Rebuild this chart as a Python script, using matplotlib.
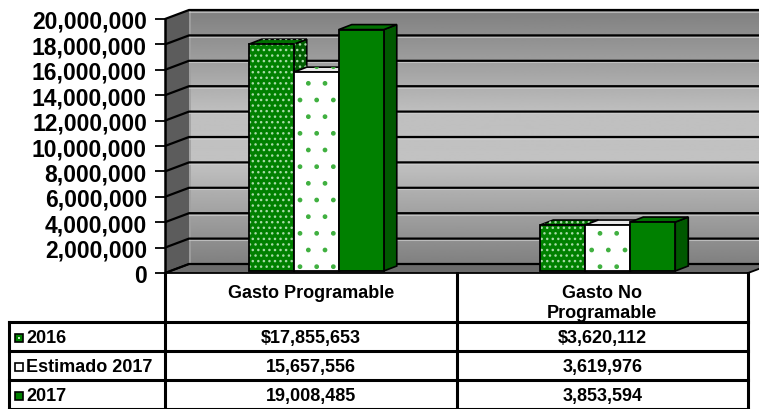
import numpy as np
import matplotlib
matplotlib.use("Agg")
import matplotlib.pyplot as plt
from matplotlib.patches import Polygon, Rectangle

plt.rcParams['font.family'] = ['Liberation Sans', 'DejaVu Sans']
plt.rcParams['hatch.linewidth'] = 1.0

# data
categories = ["Gasto Programable", "Gasto No\nProgramable"]
series = ["2016", "Estimado 2017", "2017"]
v2016 = [17855653, 3620112]
vest2017 = [15657556, 3619976]
v2017 = [19008485, 3853594]
values = [v2016, vest2017, v2017]
yticks = np.arange(0, 20000001, 2000000)

# styles per series: front colour, side colour, top colour, hatch, dot colour
front_col = ["#008000", "#ffffff", "#008000"]
side_col = ["#005c00", "#d8d8d8", "#005800"]
top_col = ["#007000", "#e8e8e8", "#007000"]
hatches = ["...", ".", None]
dot_col = ["#a8dca8", "#40b040", None]

# figure geometry (pixels)
W, H = 759, 410
X0, X1 = 165, 748          # front plane left/right
Y0, YTOP = 274, 20         # front plane value 0 / value 20M
WALL_DX, WALL_DY = 24, 9   # depth of the box
BAR_DX, BAR_DY = 13, 5     # depth of each bar
OFF_DX, OFF_DY = 5.5, 2    # bars sit in the middle of the depth

fig = plt.figure(figsize=(W / 100, H / 100), dpi=100)
ax = fig.add_axes([X0 / W, 1 - Y0 / H, (X1 - X0) / W, (Y0 - YTOP) / H])
ax.set_facecolor("none")

ncat = len(categories)
ymax = yticks[-1]
px_x = ncat / (X1 - X0)
px_y = ymax / (Y0 - YTOP)
DX, DY = WALL_DX * px_x, WALL_DY * px_y
bdx, bdy = BAR_DX * px_x, BAR_DY * px_y
fx, fy = OFF_DX * px_x, OFF_DY * px_y

# back wall with vertical gradient
stops_f = [0.0, 0.15, 0.4, 0.6, 0.8, 1.0]
stops_g = [0.50, 0.60, 0.76, 0.75, 0.62, 0.50]
grad = np.interp(np.linspace(0, 1, 256), stops_f, stops_g)[:, None]
ax.imshow(grad, extent=[DX, ncat + DX + 0.2, DY, ymax + DY], origin="lower",
          cmap="gray", vmin=0, vmax=1, aspect="auto", zorder=0, clip_on=False)

# side wall and floor
ax.add_patch(Polygon([(0, 0), (DX, DY), (DX, ymax + DY), (0, ymax)],
                     closed=True, facecolor="#5c5c5c", edgecolor="none",
                     zorder=1, clip_on=False))
ax.add_patch(Polygon([(0, 0), (ncat, 0), (ncat + DX, DY), (DX, DY)],
                     closed=True, facecolor="#6c6c6c", edgecolor="black",
                     lw=1.3, zorder=1, clip_on=False))
ax.plot([DX + 0.004, DX + 0.004], [DY, ymax + DY], color="#a0a0a0", lw=1.2,
        zorder=1.5, clip_on=False)

# gridlines
for t in yticks:
    ax.plot([0, DX, ncat + DX + 0.2], [t, t + DY, t + DY], color="black",
            lw=1.6, zorder=2, clip_on=False, solid_capstyle="butt")
    if 0 < t:
        ax.plot([DX, ncat + DX + 0.2], [t + DY - 1.5 * px_y] * 2,
                color="#d0d0d0", lw=0.8, alpha=0.7, zorder=2, clip_on=False)

# bars
w = 0.1544
z = 3
for i in range(ncat):
    for j in range(len(series)):
        v = values[j][i]
        xc = i + 0.5 + (j - 1) * w + fx
        xl, xr = xc - w / 2, xc + w / 2
        top = v + fy
        side = Polygon([(xr, fy), (xr + bdx, fy + bdy), (xr + bdx, top + bdy), (xr, top)],
                       closed=True, facecolor=side_col[j], edgecolor="black",
                       lw=1.2, zorder=z, clip_on=False)
        ax.add_patch(side)
        topf = Polygon([(xl, top), (xr, top), (xr + bdx, top + bdy), (xl + bdx, top + bdy)],
                       closed=True, facecolor=top_col[j], edgecolor="black",
                       lw=1.2, zorder=z, clip_on=False)
        ax.add_patch(topf)
        if hatches[j]:
            for poly in (side, topf):
                ax.add_patch(Polygon(poly.get_xy(), closed=True, fill=False,
                                     hatch=hatches[j], edgecolor=dot_col[j],
                                     lw=0, zorder=z + 0.1, clip_on=False))
        ax.bar(xc, v, width=w, bottom=fy, color=front_col[j], lw=0,
               zorder=z + 0.2, clip_on=False)
        if hatches[j]:
            ax.bar(xc, v, width=w, bottom=fy, fill=False, hatch=hatches[j],
                   edgecolor=dot_col[j], lw=0, zorder=z + 0.3, clip_on=False)
        ax.bar(xc, v, width=w, bottom=fy, fill=False, edgecolor="black",
               lw=1.3, zorder=z + 0.4, clip_on=False)
        z += 1

ax.set_xlim(0, ncat)
ax.set_ylim(0, ymax)
ax.set_xticks([])
ax.set_yticks(yticks)
ax.set_yticklabels([f"{t:,.0f}" for t in yticks], fontsize=16.5, fontweight="bold")
ax.tick_params(axis="y", length=7, width=1.3, pad=6, direction="out")
for s in ["top", "right", "bottom"]:
    ax.spines[s].set_visible(False)
ax.spines["left"].set_linewidth(1.8)
ax.spines["left"].set_zorder(50)

# data table under the plot (pixel coordinates)
tax = fig.add_axes([0, 0, 1, 1])
tax.set_xlim(0, W)
tax.set_ylim(H, 0)
tax.axis("off")
tax.set_facecolor("none")

col_x = [X0 + (X1 - X0) * k / ncat for k in range(ncat + 1)]
LX = 9
row_y = [323, 352, 381, 410]
lw_t = 2.2
for cx in col_x:
    tax.plot([cx, cx], [Y0, H + 2], color="black", lw=lw_t, clip_on=False)
tax.plot([LX, LX], [row_y[0], H + 2], color="black", lw=lw_t, clip_on=False)
for ry in row_y:
    tax.plot([LX, X1], [ry, ry], color="black", lw=lw_t, clip_on=False,
             solid_capstyle="projecting")

for i, cat in enumerate(categories):
    tax.text((col_x[i] + col_x[i + 1]) / 2, 285, cat, ha="center", va="top",
             fontsize=13, fontweight="bold", linespacing=1.22)

for j, name in enumerate(series):
    yc = (row_y[j] + row_y[j + 1]) / 2 + 1
    tax.add_patch(Rectangle((15, yc - 4), 8, 8, facecolor=front_col[j],
                            edgecolor="black", lw=1.2))
    if j == 0:
        tax.plot([19], [yc], marker="s", ms=2, color="#c8f0c8", mew=0)
    tax.text(26, yc, name, ha="left", va="center", fontsize=13, fontweight="bold")
    for i in range(ncat):
        v = values[j][i]
        label = f"${v:,.0f}" if j == 0 else f"{v:,.0f}"
        tax.text((col_x[i] + col_x[i + 1]) / 2, yc, label, ha="center",
                 va="center", fontsize=13, fontweight="bold")

fig.savefig("out.png", dpi=100)
